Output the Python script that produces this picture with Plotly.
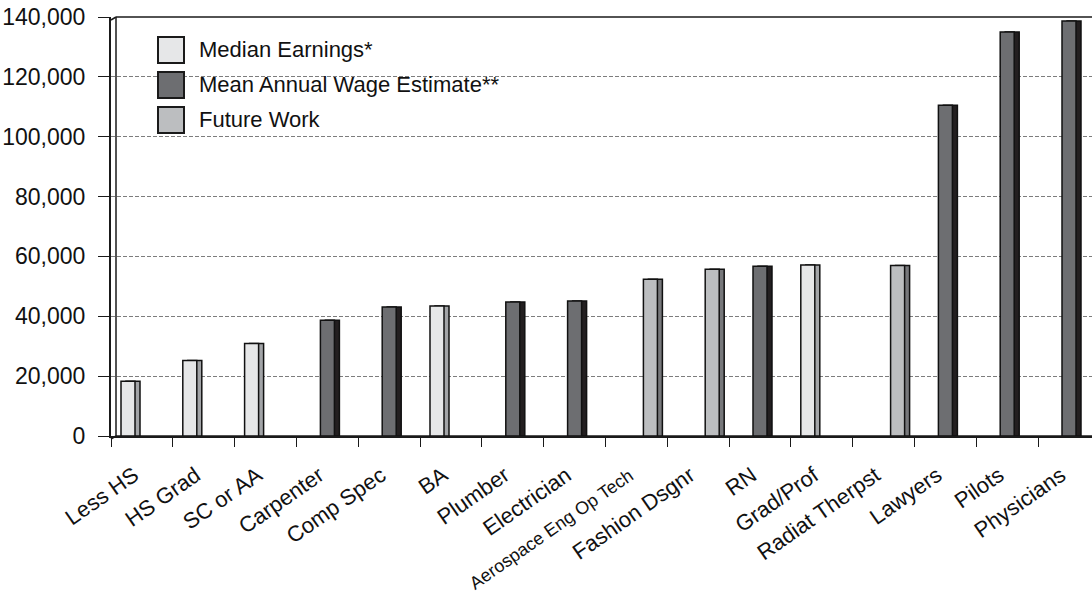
import plotly.graph_objects as go

# ---- data -------------------------------------------------------------
categories = ["Less HS", "HS Grad", "SC or AA", "Carpenter", "Comp Spec", "BA",
              "Plumber", "Electrician", "Aerospace Eng Op Tech", "Fashion Dsgnr",
              "RN", "Grad/Prof", "Radiat Therpst", "Lawyers", "Pilots", "Physicians"]
median_earnings = [18300, 25200, 30900, None, None, 43400, None, None,
                   None, None, None, 57100, None, None, None, None]
mean_wage = [None, None, None, 38700, 43100, None, 44800, 45100,
             None, None, 56700, None, None, 110500, 135000, 138700]
future_work = [None, None, None, None, None, None, None, None,
               52400, 55700, None, None, 57000, None, None, None]
series_names = ["Median Earnings*", "Mean Annual Wage Estimate**", "Future Work"]
y_tick_values = [0, 20000, 40000, 60000, 80000, 100000, 120000, 140000]

# ---- styling / geometry -------------------------------------------------
W, H = 1092, 600
LEFT = 111            # front value axis (px)
TOP = 17              # back wall top edge (px)
BOTTOM = 439          # front category axis (px)
DEPTH_X, DEPTH_Y = 5, 3
CAT_PX = 61.8         # width of one category (px)
PLOT_W = W - LEFT
PLOT_H = BOTTOM - TOP

FONT = "Arial, Liberation Sans, Helvetica, sans-serif"
TEXT_COLOR = "#111111"
front_colors = ["#e6e7e8", "#6d6e71", "#bcbec0"]
side_colors = ["#a2a4a7", "#231f20", "#77787b"]

slot_w = 14 / CAT_PX
first_offset = -0.5 + 10 / CAT_PX
depth_dx = DEPTH_X / CAT_PX

# the long label is set in a smaller size so it fits under its slot
tick_text = [f"<span style='font-size:18px'>{c}</span>" if len(c) > 16 else c
             for c in categories]


def px_x(px):
    return (px - LEFT) / PLOT_W


def px_y(py):
    return (BOTTOM - py) / PLOT_H


fig = go.Figure()

series = [median_earnings, mean_wage, future_work]

# back faces (depth) on the back-wall axis, shifted right
for k, vals in enumerate(series):
    fig.add_trace(go.Bar(
        x=categories, y=vals, yaxis="y",
        offset=first_offset + k * slot_w + depth_dx, width=slot_w,
        marker=dict(color=side_colors[k], line=dict(color="#111111", width=1.5)),
        showlegend=False, hoverinfo="skip",
    ))

# front faces on the front axis
for k, vals in enumerate(series):
    fig.add_trace(go.Bar(
        x=categories, y=vals, yaxis="y2", name=series_names[k],
        offset=first_offset + k * slot_w, width=slot_w,
        marker=dict(color=front_colors[k], line=dict(color="#111111", width=1.5)),
        showlegend=False,
    ))

shapes = []
line_style = dict(color="#1a1a1a", width=1.5)
# back wall and floor edges
for (x0, y0, x1, y1) in [(LEFT + DEPTH_X, BOTTOM - DEPTH_Y, W, BOTTOM - DEPTH_Y),
                         (LEFT + DEPTH_X, TOP, W, TOP),
                         (LEFT + DEPTH_X, TOP, LEFT + DEPTH_X, BOTTOM - DEPTH_Y),
                         (LEFT, BOTTOM, LEFT + DEPTH_X, BOTTOM - DEPTH_Y),
                         (LEFT, TOP + DEPTH_Y, LEFT + DEPTH_X, TOP)]:
    shapes.append(dict(type="line", xref="paper", yref="paper",
                       x0=px_x(x0), y0=px_y(y0), x1=px_x(x1), y1=px_y(y1),
                       line=line_style, layer="between"))

# legend panel
shapes.append(dict(type="rect", xref="paper", yref="paper",
                   x0=px_x(148), x1=px_x(530), y0=px_y(27), y1=px_y(133),
                   fillcolor="white", line=dict(width=0), layer="between"))
annotations = []
for k, name in enumerate(series_names):
    top = 37 + k * 35
    shapes.append(dict(type="rect", xref="paper", yref="paper",
                       x0=px_x(158), x1=px_x(184), y0=px_y(top), y1=px_y(top + 26),
                       fillcolor=front_colors[k], line=dict(color="#1a1a1a", width=2),
                       layer="above"))
    annotations.append(dict(xref="paper", yref="paper", x=px_x(197), y=px_y(top + 12),
                            text=name, showarrow=False, xanchor="left", yanchor="middle",
                            font=dict(family=FONT, size=22, color=TEXT_COLOR)))

fig.update_layout(
    width=W, height=H,
    margin=dict(l=LEFT, r=0, t=TOP, b=H - BOTTOM, pad=0, autoexpand=False),
    paper_bgcolor="white", plot_bgcolor="rgba(0,0,0,0)",
    barmode="overlay",
    font=dict(family=FONT, size=22, color=TEXT_COLOR),
    shapes=shapes, annotations=annotations,
    showlegend=False,
    xaxis=dict(
        type="category", categoryorder="array", categoryarray=categories,
        tickmode="array", tickvals=categories, ticktext=tick_text,
        range=[-0.5, -0.5 + PLOT_W / CAT_PX], anchor="y2", automargin=False,
        showline=True, linecolor="#1a1a1a", linewidth=2,
        ticks="outside", tickson="boundaries", ticklen=9, tickwidth=1.2,
        tickcolor="#1a1a1a", tickangle=-35,
        ticklabelstandoff=16, ticklabelshift=-8,
        tickfont=dict(family=FONT, size=22, color=TEXT_COLOR),
        showgrid=False, zeroline=False,
    ),
    # back wall axis: carries the dashed gridlines
    yaxis=dict(
        domain=[DEPTH_Y / PLOT_H, 1], range=[0, 140000], automargin=False,
        tickvals=y_tick_values[1:-1], showticklabels=False, ticks="",
        showgrid=True, gridcolor="#7d7d7d", gridwidth=1.2, griddash="4px,2px",
        zeroline=False, showline=False,
    ),
    # front axis: labels and ticks
    yaxis2=dict(
        domain=[0, (PLOT_H - DEPTH_Y) / PLOT_H], range=[0, 140000],
        overlaying="y", side="left", anchor="x", automargin=False,
        tickvals=y_tick_values, tickformat=",",
        ticks="outside", ticklen=11, tickwidth=1.2, tickcolor="#1a1a1a",
        ticklabelstandoff=8,
        tickfont=dict(family=FONT, size=23, color=TEXT_COLOR),
        showline=True, linecolor="#1a1a1a", linewidth=2,
        showgrid=False, zeroline=False,
    ),
)

fig.write_html("out.html")
